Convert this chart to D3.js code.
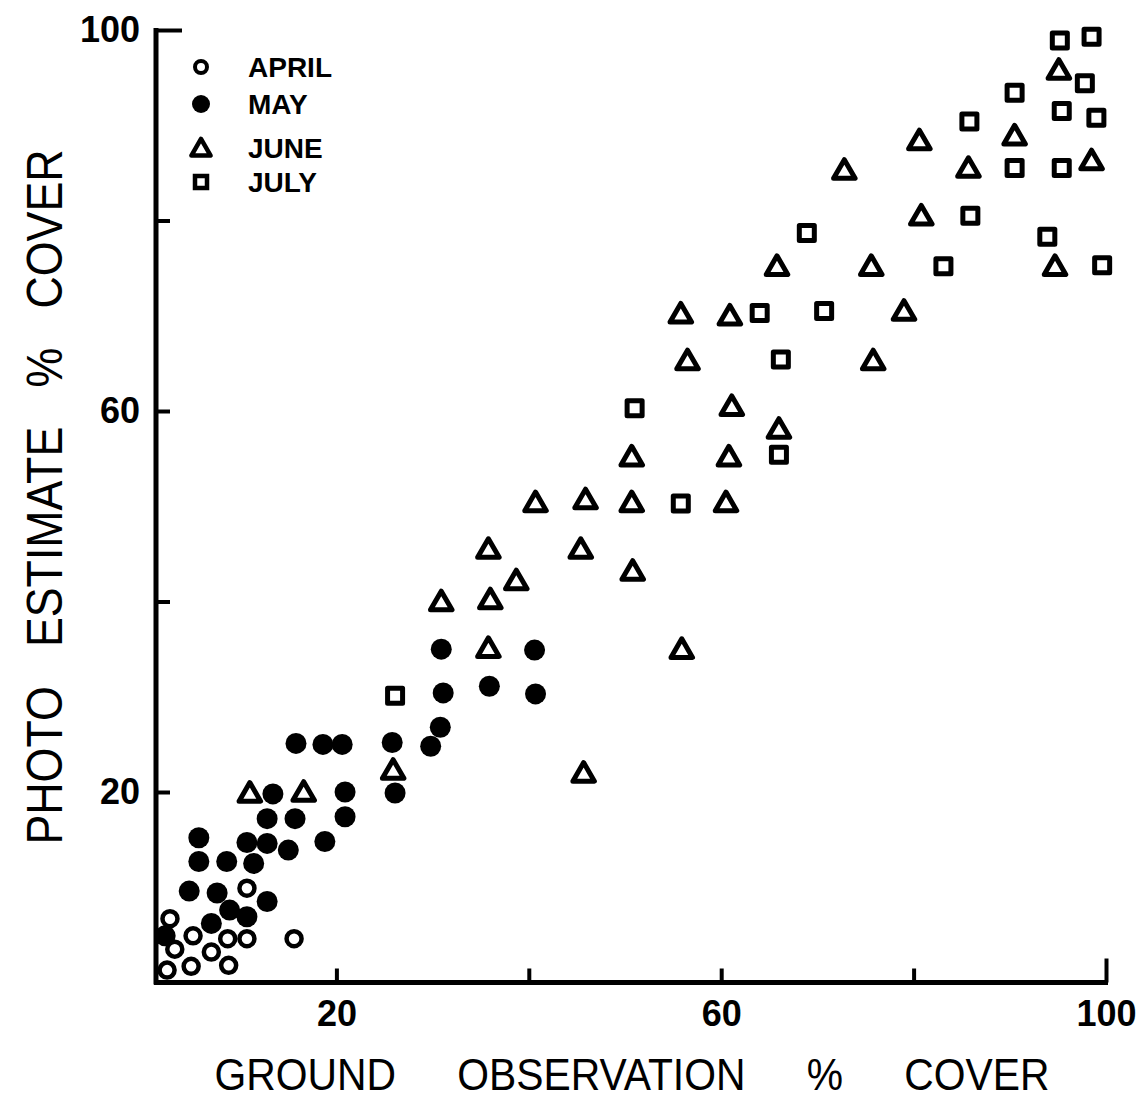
<!DOCTYPE html>
<html>
<head>
<meta charset="utf-8">
<script src="https://cdn.jsdelivr.net/npm/d3@7"></script>
<style>
  body { margin: 0; background: #fff; }
  text { font-family: "Liberation Sans", Arial, sans-serif; fill: #000; }
</style>
</head>
<body>
<div id="chart"></div>
<script>
// values: [ground observation %, photo estimate %]
const april = [
  [2.7, 6.7], [5.1, 4.9], [3.2, 3.5], [8.7, 4.6], [10.7, 4.6], [7.0, 3.2],
  [8.8, 1.8], [4.9, 1.7], [2.4, 1.3], [15.6, 4.6], [10.7, 9.9]
];
const may = [
  [15.8, 25.1], [18.6, 25.0], [20.6, 25.0], [25.8, 25.2], [26.1, 19.9],
  [13.4, 19.8], [20.9, 20.0], [12.8, 17.2], [15.7, 17.2], [20.9, 17.4],
  [5.7, 15.2], [10.7, 14.7], [12.8, 14.6], [15.0, 13.9], [18.8, 14.8],
  [5.7, 12.7], [8.6, 12.7], [11.4, 12.5], [4.7, 9.6], [7.6, 9.4],
  [12.8, 8.5], [8.9, 7.6], [10.7, 6.9], [7.0, 6.2], [2.2, 4.9],
  [30.9, 35.0], [40.6, 34.9], [31.1, 30.4], [35.9, 31.1], [40.7, 30.3],
  [30.8, 26.8], [29.8, 24.8]
];
const june = [
  [11.0, 20.0], [16.6, 20.1], [25.9, 22.4], [45.7, 22.1], [35.8, 35.2],
  [55.9, 35.1], [30.9, 40.1], [36.0, 40.3], [38.7, 42.3], [35.8, 45.6],
  [45.4, 45.6], [50.8, 43.3], [40.7, 50.5], [45.9, 50.8], [50.7, 50.5],
  [60.5, 50.5], [50.7, 55.3], [60.8, 55.3], [61.1, 60.6], [66.0, 58.2],
  [55.8, 70.3], [60.9, 70.1], [56.5, 65.4], [75.8, 65.4], [79.0, 70.6],
  [65.8, 75.3], [75.6, 75.3], [94.7, 75.3], [80.8, 80.6], [72.8, 85.4],
  [85.7, 85.6], [80.6, 88.5], [90.5, 89.0], [98.5, 86.4], [95.1, 95.9]
];
const july = [
  [26.1, 30.1], [55.8, 50.3], [66.0, 55.4], [51.0, 60.3], [66.2, 65.4],
  [64.0, 70.3], [70.7, 70.5], [68.9, 78.7], [83.1, 75.2], [99.6, 75.3],
  [93.9, 78.3], [85.9, 80.5], [90.5, 85.5], [95.4, 85.5], [85.8, 90.4],
  [95.4, 91.5], [99.0, 90.8], [90.5, 93.4], [97.8, 94.4], [95.2, 98.9],
  [98.5, 99.3]
];
const legendLabels = ["APRIL", "MAY", "JUNE", "JULY"];
const xTicks = [20, 40, 60, 80, 100];
const yTicks = [20, 40, 60, 80, 100];
const labelledTicks = [20, 60, 100];

const w = 1140;
const h = 1105;
const svg = d3
  .select("#chart")
  .append("svg")
  .attr("width", w)
  .attr("height", h);

svg.append("rect").attr("width", w).attr("height", h).attr("fill", "#fff");

// scales
const x = d3.scaleLinear().domain([0, 100]).range([144, 1106]);
const y = d3.scaleLinear().domain([0, 100]).range([982.5, 30]);
const axisLeftX = 156;

// axes
const xAxis = svg
  .append("g")
  .attr("transform", `translate(0,${y(0)})`)
  .call(
    d3.axisBottom(x)
      .tickValues(xTicks)
      .tickSize(-14)
      .tickSizeOuter(0)
      .tickPadding(18)
      .tickFormat((d) => (labelledTicks.includes(d) ? d : ""))
  );
xAxis.select(".domain").remove();
xAxis.selectAll(".tick line").attr("stroke-width", 4).attr("stroke", "#000")
  .attr("y2", (d) => (d === 100 ? -24 : -14));
xAxis.selectAll(".tick text")
  .attr("font-size", 36).attr("font-weight", "bold")
  .attr("font-family", "Liberation Sans, Arial, sans-serif");
svg.append("line")
  .attr("x1", axisLeftX - 2).attr("x2", x(100) + 2)
  .attr("y1", y(0)).attr("y2", y(0))
  .attr("stroke", "#000").attr("stroke-width", 5);

const yAxis = svg
  .append("g")
  .attr("transform", `translate(${axisLeftX},0)`)
  .call(
    d3.axisLeft(y)
      .tickValues(yTicks)
      .tickSize(-14)
      .tickSizeOuter(0)
      .tickPadding(16)
      .tickFormat((d) => (labelledTicks.includes(d) ? d : ""))
  );
yAxis.select(".domain").remove();
yAxis.selectAll(".tick line").attr("stroke-width", 4).attr("stroke", "#000")
  .attr("x2", (d) => (d === 100 ? 26 : 14));
yAxis.selectAll(".tick text")
  .attr("font-size", 36).attr("font-weight", "bold")
  .attr("font-family", "Liberation Sans, Arial, sans-serif");
svg.append("line")
  .attr("x1", axisLeftX).attr("x2", axisLeftX)
  .attr("y1", y(100) - 2).attr("y2", y(0) + 2)
  .attr("stroke", "#000").attr("stroke-width", 5);

// axis titles
svg.append("text")
  .attr("x", 632).attr("y", 1090)
  .attr("text-anchor", "middle")
  .attr("font-size", 45)
  .attr("word-spacing", 55)
  .attr("textLength", 835)
  .attr("lengthAdjust", "spacingAndGlyphs")
  .text("GROUND OBSERVATION % COVER");

svg.append("text")
  .attr("transform", "translate(62,497) rotate(-90)")
  .attr("text-anchor", "middle")
  .attr("font-size", 50)
  .attr("word-spacing", 30)
  .attr("textLength", 695)
  .attr("lengthAdjust", "spacingAndGlyphs")
  .text("PHOTO ESTIMATE % COVER");

// markers
const tri = d3.symbol(d3.symbolTriangle, 200);
const sq = d3.symbol(d3.symbolSquare, 225);

const plot = svg.append("g");

plot.selectAll(".april")
  .data(april)
  .join("circle")
  .attr("class", "april")
  .attr("cx", (d) => x(d[0]))
  .attr("cy", (d) => y(d[1]))
  .attr("r", 7.5)
  .attr("fill", "#fff")
  .attr("stroke", "#000")
  .attr("stroke-width", 4.5);

plot.selectAll(".may")
  .data(may)
  .join("circle")
  .attr("class", "may")
  .attr("cx", (d) => x(d[0]))
  .attr("cy", (d) => y(d[1]))
  .attr("r", 10.5)
  .attr("fill", "#000");

plot.selectAll(".june")
  .data(june)
  .join("path")
  .attr("class", "june")
  .attr("d", tri)
  .attr("transform", (d) => `translate(${x(d[0])},${y(d[1]) + 3})`)
  .attr("fill", "#fff")
  .attr("stroke", "#000")
  .attr("stroke-width", 5)
  .attr("stroke-linejoin", "round");

plot.selectAll(".july")
  .data(july)
  .join("path")
  .attr("class", "july")
  .attr("d", sq)
  .attr("transform", (d) => `translate(${x(d[0])},${y(d[1])})`)
  .attr("fill", "#fff")
  .attr("stroke", "#000")
  .attr("stroke-width", 5)
  .attr("stroke-linejoin", "round");

// legend
const legendY = [67, 104, 148, 182];
const legend = svg.append("g");
legend.append("circle").attr("cx", 201).attr("cy", legendY[0]).attr("r", 6)
  .attr("fill", "#fff").attr("stroke", "#000").attr("stroke-width", 4);
legend.append("circle").attr("cx", 201).attr("cy", legendY[1]).attr("r", 9)
  .attr("fill", "#000");
legend.append("path").attr("d", d3.symbol(d3.symbolTriangle, 160))
  .attr("transform", `translate(201,${legendY[2] + 2})`)
  .attr("fill", "#fff").attr("stroke", "#000").attr("stroke-width", 4.5)
  .attr("stroke-linejoin", "round");
legend.append("path").attr("d", d3.symbol(d3.symbolSquare, 144))
  .attr("transform", `translate(201,${legendY[3]})`)
  .attr("fill", "#fff").attr("stroke", "#000").attr("stroke-width", 4.5);
legend.selectAll("text")
  .data(legendLabels)
  .join("text")
  .attr("x", 248)
  .attr("y", (d, i) => legendY[i])
  .attr("dy", "0.36em")
  .attr("font-size", 28)
  .attr("font-weight", "bold")
  .text((d) => d);
</script>
</body>
</html>
